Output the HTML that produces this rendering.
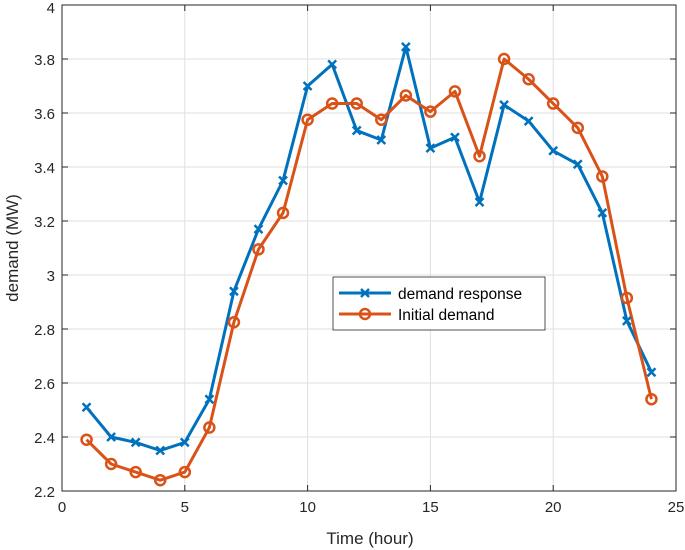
<!DOCTYPE html>
<html><head><meta charset="utf-8"><style>
body{margin:0;background:#fff;}
svg{display:block;font-family:"Liberation Sans",Arial,sans-serif;}
</style></head><body>
<svg id="chart" width="685" height="550" viewBox="0 0 685 550" xmlns="http://www.w3.org/2000/svg">
<g id="grid"></g>
<g id="axes"></g>
<g id="series"></g>
<text x="370" y="544" font-size="17" text-anchor="middle" fill="#262626">Time (hour)</text>
<text transform="translate(18,248) rotate(-90)" font-size="17" text-anchor="middle" fill="#262626">demand (MW)</text>
<g>
<rect x="333" y="277" width="212" height="53" fill="#fff" stroke="#262626" stroke-width="0.8"/>
<g>
<line x1="339" y1="293" x2="391" y2="293" stroke="#0072BD" stroke-width="3"/>
<path d="M361,289 l8,8 M369,289 l-8,8" stroke="#0072BD" stroke-width="2.5"/>
<text x="398" y="299" font-size="15.5" fill="#000">demand response</text>
</g>
<g>
<line x1="339" y1="314" x2="391" y2="314" stroke="#D95319" stroke-width="3"/>
<circle cx="365" cy="314" r="5" fill="none" stroke="#D95319" stroke-width="2.5"/>
<text x="398" y="320" font-size="15.5" fill="#000">Initial demand</text>
</g>
</g>
</svg>
<script>
const hours=[1,2,3,4,5,6,7,8,9,10,11,12,13,14,15,16,17,18,19,20,21,22,23,24];
const demandResponse=[2.51,2.40,2.38,2.35,2.38,2.54,2.94,3.17,3.35,3.70,3.78,3.535,3.50,3.845,3.47,3.51,3.27,3.63,3.57,3.46,3.41,3.23,2.83,2.64];
const initialDemand=[2.39,2.30,2.27,2.24,2.27,2.435,2.825,3.095,3.23,3.575,3.635,3.635,3.575,3.665,3.605,3.68,3.44,3.80,3.725,3.635,3.545,3.365,2.915,2.54];
const xTicks=[0,5,10,15,20,25];
const yTicks=[2.2,2.4,2.6,2.8,3,3.2,3.4,3.6,3.8,4];
const yLabels=["2.2","2.4","2.6","2.8","3","3.2","3.4","3.6","3.8","4"];
const L=62,R=676,T=5,B=491,xmin=0,xmax=25,ymin=2.2,ymax=4;
const X=v=>L+(v-xmin)/(xmax-xmin)*(R-L);
const Y=v=>B-(v-ymin)/(ymax-ymin)*(B-T);
const NS="http://www.w3.org/2000/svg";
function mk(t,a,p){const e=document.createElementNS(NS,t);for(const k in a)e.setAttribute(k,a[k]);p.appendChild(e);return e;}
const grid=document.getElementById('grid'),axes=document.getElementById('axes'),series=document.getElementById('series');
xTicks.forEach(t=>{
 const g=mk('line',{x1:X(t),x2:X(t),y1:T,y2:B,stroke:'#dfdfdf','stroke-width':1},grid);
 
 
 mk('line',{x1:X(t),x2:X(t),y1:B,y2:B-6,stroke:'#262626'},axes);
 mk('line',{x1:X(t),x2:X(t),y1:T,y2:T+6,stroke:'#262626'},axes);
 const tx=mk('text',{x:X(t),y:B+21,'font-size':15,'text-anchor':'middle',fill:'#262626'},axes);
 tx.textContent=t;
 
 
});
yTicks.forEach((t,i)=>{
 const g=mk('line',{x1:L,x2:R,y1:Y(t),y2:Y(t),stroke:'#dfdfdf','stroke-width':1},grid);
 
 
 mk('line',{x1:L,x2:L+6,y1:Y(t),y2:Y(t),stroke:'#262626'},axes);
 mk('line',{x1:R,x2:R-6,y1:Y(t),y2:Y(t),stroke:'#262626'},axes);
 const tx=mk('text',{x:L-7,y:Math.max(Y(t)+6,13),'font-size':15,'text-anchor':'end',fill:'#262626'},axes);
 tx.textContent=yLabels[i];
 
 
});
const fr=mk('rect',{x:L,y:T,width:R-L,height:B-T,fill:'none',stroke:'#262626','stroke-width':1},axes);


function line(vals,color,name){
 const pts=hours.map((h,i)=>X(h)+','+Y(vals[i])).join(' ');
 const p=mk('polyline',{points:pts,fill:'none',stroke:color,'stroke-width':3,'stroke-linejoin':'round'},series);
 
 
}
line(demandResponse,'#0072BD','demand-response');
line(initialDemand,'#D95319','initial-demand');
hours.forEach((h,i)=>{
 const x=X(h),y=Y(demandResponse[i]);
 const m=mk('path',{d:`M${x-4},${y-4}L${x+4},${y+4}M${x+4},${y-4}L${x-4},${y+4}`,stroke:'#0072BD','stroke-width':2.5},series);
 
 
 const c=mk('circle',{cx:x,cy:Y(initialDemand[i]),r:5,fill:'none',stroke:'#D95319','stroke-width':2.5},series);
 
 
});
</script>
</body></html>
